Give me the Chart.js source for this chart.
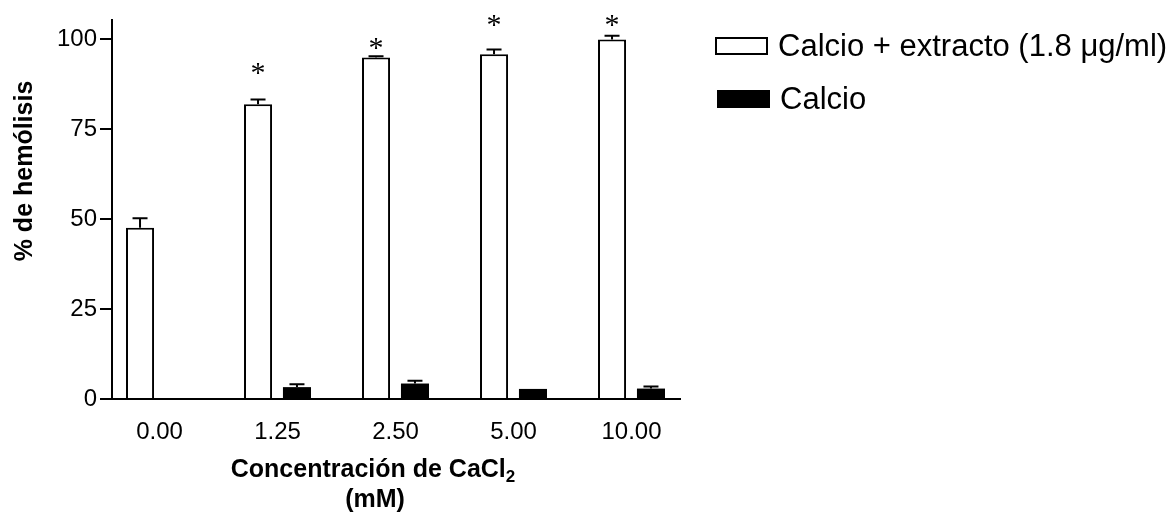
<!DOCTYPE html>
<html>
<head>
<meta charset="utf-8">
<script src="https://cdn.jsdelivr.net/npm/chart.js@4"></script>
<style>body{margin:0;background:#fff}</style>
</head>
<body>
<canvas id="myChart" width="1171" height="519"></canvas>
<script>
const categories = ['0.00', '1.25', '2.50', '5.00', '10.00'];
const extractoValues = [47.6, 81.9, 94.9, 95.8, 99.9];
const extractoErrors = [2.6, 1.3, 0.3, 1.3, 1.0];
const calcioValues = [0, 3.3, 4.3, 2.8, 2.9];
const calcioErrors = [0, 0.8, 0.8, 0, 0.6];
const starValues = [null, 91.9, 98.8, 105.1, 105.1];
const yTicks = [0, 25, 50, 75, 100];
const seriesLabels = ['Calcio + extracto (1.8 \u03bcg/ml)', 'Calcio'];

const ctx = document.getElementById('myChart');
const sans = '"Liberation Sans", Arial, sans-serif';

// error bars and the asterisks, placed on the bars chart.js drew
const errorBars = {
  id: 'errorBars',
  afterDatasetsDraw(chart) {
    const c = chart.ctx, y = chart.scales.y;
    const errs = [extractoErrors, calcioErrors];
    c.save();
    c.strokeStyle = '#000';
    c.lineWidth = 2;
    chart.data.datasets.forEach((ds, i) => {
      chart.getDatasetMeta(i).data.forEach((bar, j) => {
        const e = errs[i][j];
        if (!e) return;
        const top = y.getPixelForValue(ds.data[j].y + e);
        c.beginPath();
        c.moveTo(bar.x, bar.y);
        c.lineTo(bar.x, top);
        c.moveTo(bar.x - 7.5, top);
        c.lineTo(bar.x + 7.5, top);
        c.stroke();
      });
    });
    c.fillStyle = '#000';
    c.font = '30px "Liberation Serif", serif';
    c.textAlign = 'center';
    c.textBaseline = 'alphabetic';
    const m = c.measureText('*');
    const shift = (m.actualBoundingBoxAscent - m.actualBoundingBoxDescent) / 2;
    chart.getDatasetMeta(0).data.forEach((bar, j) => {
      if (starValues[j] == null) return;
      c.fillText('*', bar.x, y.getPixelForValue(starValues[j]) + shift);
    });
    c.restore();
  }
};

// axis titles and legend
const decorations = {
  id: 'decorations',
  afterDraw(chart) {
    const c = chart.ctx, area = chart.chartArea;
    c.save();
    c.fillStyle = '#000';
    c.textBaseline = 'middle';

    // y title
    c.save();
    c.translate(25, 171);
    c.rotate(-Math.PI / 2);
    c.font = 'bold 25px ' + sans;
    c.textAlign = 'center';
    c.fillText('% de hemólisis', 0, 0);
    c.restore();

    // x title with subscript
    const main = 'Concentración de CaCl';
    c.font = 'bold 25px ' + sans;
    const w1 = c.measureText(main).width;
    c.font = 'bold 17px ' + sans;
    const w2 = c.measureText('2').width;
    const cx = 373;
    let x = cx - (w1 + w2) / 2;
    c.textAlign = 'left';
    c.font = 'bold 25px ' + sans;
    c.fillText(main, x, 470);
    c.font = 'bold 17px ' + sans;
    c.fillText('2', x + w1, 477);
    c.font = 'bold 25px ' + sans;
    c.textAlign = 'center';
    c.fillText('(mM)', 375, 500);

    // legend
    const bx = area.right + 35;
    const rows = [46, 99];
    chart.data.datasets.forEach((ds, i) => {
      const ry = rows[i];
      if (i === 0) {
        c.fillStyle = '#fff';
        c.fillRect(bx, ry - 9, 53, 18);
        c.strokeStyle = '#000';
        c.lineWidth = 2;
        c.strokeRect(bx + 1, ry - 8, 51, 16);
      } else {
        c.fillStyle = '#000';
        c.fillRect(bx + 2, ry - 9, 53, 18);
      }
      c.fillStyle = '#000';
      c.font = '31px ' + sans;
      c.textAlign = 'left';
      c.fillText(ds.label, bx + 63 + (i ? 2 : 0), ry + 1);
    });
    c.restore();
  }
};

new Chart(ctx, {
  type: 'bar',
  data: {
    datasets: [{
      label: seriesLabels[0],
      data: categories.map((cat, i) => ({ x: i, y: extractoValues[i] })),
      backgroundColor: '#fff',
      borderColor: '#000',
      borderWidth: 2,
      categoryPercentage: 0.66,
      barPercentage: 0.72
    }, {
      label: seriesLabels[1],
      data: categories.map((cat, i) => ({ x: i, y: calcioValues[i] })),
      backgroundColor: '#000',
      borderWidth: 0,
      categoryPercentage: 0.66,
      barPercentage: 0.72
    }]
  },
  options: {
    responsive: false,
    animation: false,
    layout: { padding: { top: 20, right: 491, left: 0, bottom: 0 } },
    plugins: { legend: { display: false }, tooltip: { enabled: false } },
    scales: {
      x: {
        type: 'linear',
        offset: false,
        min: -0.4025,
        max: 4.411,
        z: 1,
        afterBuildTicks: s => { s.ticks = categories.map((c, i) => ({ value: i })); },
        afterFit: s => { s.height = 120; },
        grid: { drawOnChartArea: false, drawTicks: false },
        border: { color: '#000', width: 2 },
        ticks: {
          callback: v => categories[v],
          color: '#000',
          font: { family: sans, size: 24 },
          padding: 19,
          maxRotation: 0,
          autoSkip: false
        }
      },
      y: {
        min: 0,
        max: 105.3,
        z: 1,
        afterBuildTicks: s => { s.ticks = yTicks.map(v => ({ value: v })); },
        afterFit: s => { s.width = 112; },
        grid: { drawOnChartArea: false, tickLength: 12, color: '#000', lineWidth: 2 },
        border: { color: '#000', width: 2 },
        ticks: {
          color: '#000',
          font: { family: sans, size: 24 },
          padding: 3
        }
      }
    }
  },
  plugins: [errorBars, decorations]
});
</script>
</body>
</html>
